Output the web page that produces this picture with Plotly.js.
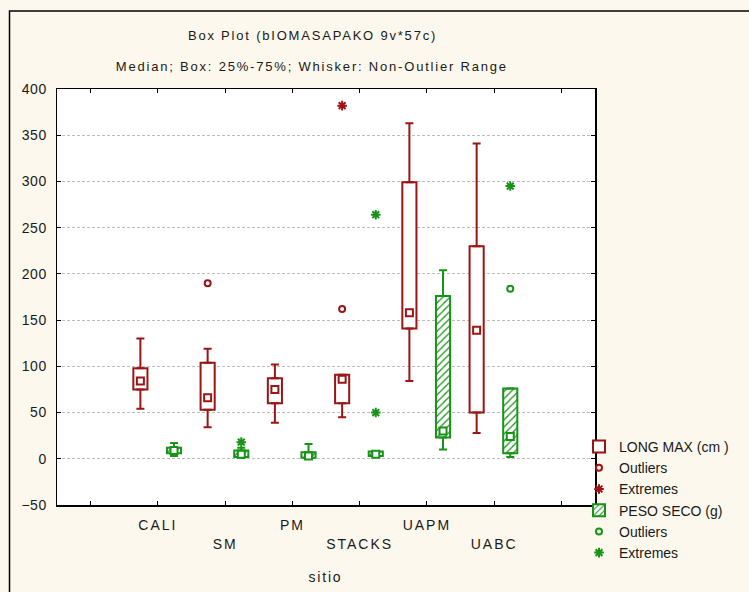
<!DOCTYPE html>
<html>
<head>
<meta charset="utf-8">
<script src="https://cdn.plot.ly/plotly-3.0.1.min.js"></script>
<style>
html,body{margin:0;padding:0;background:#fdf8ed;}
#chart{width:749px;height:592px;}
#chart .annotation-text{letter-spacing:1.8px;}
#chart .xtick text{letter-spacing:2px;}
#chart .ytick text{letter-spacing:0.5px;}
</style>
</head>
<body>
<div id="chart"></div>
<script>
// ---- data ----
const categories = ['CALI', 'SM', 'PM', 'STACKS', 'UAPM', 'UABC'];
const staggered = [false, true, false, true, false, true];

// LONG MAX (cm)
const longMin = [54, 34, 39, 45, 84, 28];
const longQ1  = [75, 53, 60, 60, 141, 50];
const longMed = [84, 66, 75, 86, 158, 139];
const longQ3  = [98, 104, 87, 91, 299, 230];
const longMax = [130, 119, 102, 91, 363, 341];
const longOutCat = ['SM', 'STACKS'];
const longOutVal = [190, 162];
const longExtCat = ['STACKS'];
const longExtVal = [382];

// PESO SECO (g)
const pesoMin = [3, 1, 0, 2, 10, 2];
const pesoQ1  = [6, 2, 1, 3, 23, 6];
const pesoMed = [9, 5, 3, 5, 30, 24];
const pesoQ3  = [12, 9, 7, 8, 176, 76];
const pesoMax = [17, 12, 16, 8, 204, 76];
const pesoOutCat = ['UABC'];
const pesoOutVal = [184];
const pesoExtCat = ['SM', 'STACKS', 'STACKS', 'UABC'];
const pesoExtVal = [18, 264, 50, 295];

// ---- styling ----
const RED = '#9c1414';
const GREEN = '#179417';
const FONT = 'Liberation Sans, Arial, sans-serif';
const RED_OFF = -0.26, GREEN_OFF = 0.24, BOXW = 0.21;

const pos = (cat, off) => categories.indexOf(cat) + 1 + off;
const redX = categories.map(c => pos(c, RED_OFF));
const greenX = categories.map(c => pos(c, GREEN_OFF));

function boxTraces(xs, mn, q1, med, q3, mx, color, name, rank, pattern) {
  const marker = {color: 'white', line: {color: color, width: 2}};
  if (pattern) marker.pattern = {shape: '/', fgcolor: color, bgcolor: 'white', size: 5, solidity: 0.25};
  return [
    {type: 'bar', x: xs, base: q1, y: q3.map((v, i) => v - q1[i]), width: BOXW,
     marker: marker, name: name, legendrank: rank, hoverinfo: 'skip'},
    {type: 'scatter', mode: 'markers', x: xs, y: q3, showlegend: false, hoverinfo: 'skip',
     marker: {size: 1, color: color},
     error_y: {type: 'data', symmetric: false, array: mx.map((v, i) => v - q3[i]),
               arrayminus: xs.map(() => 0), color: color, thickness: 2, width: 4}},
    {type: 'scatter', mode: 'markers', x: xs, y: q1, showlegend: false, hoverinfo: 'skip',
     marker: {size: 1, color: color},
     error_y: {type: 'data', symmetric: false, array: xs.map(() => 0),
               arrayminus: mn.map((v, i) => q1[i] - v), color: color, thickness: 2, width: 4}},
    {type: 'scatter', mode: 'markers', x: xs, y: med, showlegend: false, hoverinfo: 'skip',
     marker: {symbol: 'square', size: 7, color: 'white', line: {color: color, width: 2}}}
  ];
}

function pointTrace(cats, vals, off, color, name, rank, symbol) {
  return {type: 'scatter', mode: 'markers', x: cats.map(c => pos(c, off)), y: vals,
          name: name, legendrank: rank, hoverinfo: 'skip',
          marker: symbol === 'out'
            ? {symbol: 'circle-open', size: 6, color: color, line: {color: color, width: 2}}
            : {symbol: 'asterisk-open', size: 8, color: color, line: {color: color, width: 2}}};
}

const data = [
  ...boxTraces(redX, longMin, longQ1, longMed, longQ3, longMax, RED, 'LONG MAX (cm )', 1, false),
  ...boxTraces(greenX, pesoMin, pesoQ1, pesoMed, pesoQ3, pesoMax, GREEN, 'PESO SECO (g)', 4, true),
  pointTrace(longOutCat, longOutVal, RED_OFF, RED, 'Outliers', 2, 'out'),
  pointTrace(longExtCat, longExtVal, RED_OFF, RED, 'Extremes', 3, 'ext'),
  pointTrace(pesoOutCat, pesoOutVal, GREEN_OFF, GREEN, 'Outliers', 5, 'out'),
  pointTrace(pesoExtCat, pesoExtVal, GREEN_OFF, GREEN, 'Extremes', 6, 'ext')
];

const tickVals = [0, 1, 2, 3, 4, 5, 6, 7];
const tickText = ['', ...categories.map((c, i) => staggered[i] ? '<br>' + c : c), ''];

// layout geometry (pixels)
const W = 749, H = 592, L = 57, R = 154, T = 89, B = 87;
const PW = W - L - R, PH = H - T - B;
const px = x => (x - L) / PW;
const py = y => (H - B - y) / PH;

const layout = {
  width: W, height: H,
  margin: {l: L, r: R, t: T, b: B},
  paper_bgcolor: '#fdf8ed',
  plot_bgcolor: '#ffffff',
  font: {family: FONT, size: 14, color: '#1a1a1a'},
  barmode: 'overlay',
  showlegend: true,
  legend: {x: px(579), y: py(431), xanchor: 'left', yanchor: 'top',
           bgcolor: 'rgba(0,0,0,0)', font: {family: FONT, size: 14, color: '#1a1a1a'},
           traceorder: 'normal', itemwidth: 30},
  xaxis: {range: [-0.5, 7.5], tickvals: tickVals, ticktext: tickText,
          ticks: 'inside', ticklen: 4, tickcolor: '#000', showgrid: false, zeroline: false,
          showline: true, linecolor: '#000', linewidth: 1.5, mirror: 'allticks',
          tickfont: {family: FONT, size: 14, color: '#1a1a1a'}, ticklabelstandoff: 7},
  yaxis: {range: [-50, 400], dtick: 50, tick0: 0,
          ticks: 'inside', ticklen: 4, tickcolor: '#000', zeroline: false,
          showgrid: true, gridcolor: '#bdbdbd', griddash: '3px,2px', gridwidth: 1,
          showline: true, linecolor: '#000', linewidth: 1.5, mirror: 'allticks',
          tickfont: {family: FONT, size: 14, color: '#1a1a1a'}, ticklabelstandoff: 6},
  annotations: [
    {text: 'Box Plot (bIOMASAPAKO 9v*57c)', xref: 'paper', yref: 'paper', x: px(312), y: py(35),
     xanchor: 'center', yanchor: 'middle', showarrow: false, font: {family: FONT, size: 13, color: '#1a1a1a'}},
    {text: 'Median; Box: 25%-75%; Whisker: Non-Outlier Range', xref: 'paper', yref: 'paper', x: px(312), y: py(66),
     xanchor: 'center', yanchor: 'middle', showarrow: false, font: {family: FONT, size: 13, color: '#1a1a1a'}},
    {text: 'sitio', xref: 'paper', yref: 'paper', x: px(325), y: py(577),
     xanchor: 'center', yanchor: 'middle', showarrow: false, font: {family: FONT, size: 14, color: '#1a1a1a'}}
  ],
  shapes: [
    {type: 'rect', xref: 'paper', yref: 'paper', x0: px(9.5), y0: py(H + 20), x1: px(W + 20), y1: py(11),
     line: {color: '#000', width: 1.5}, fillcolor: 'rgba(0,0,0,0)'}
  ]
};

Plotly.newPlot('chart', data, layout, {displayModeBar: false, staticPlot: true});
</script>
</body>
</html>
